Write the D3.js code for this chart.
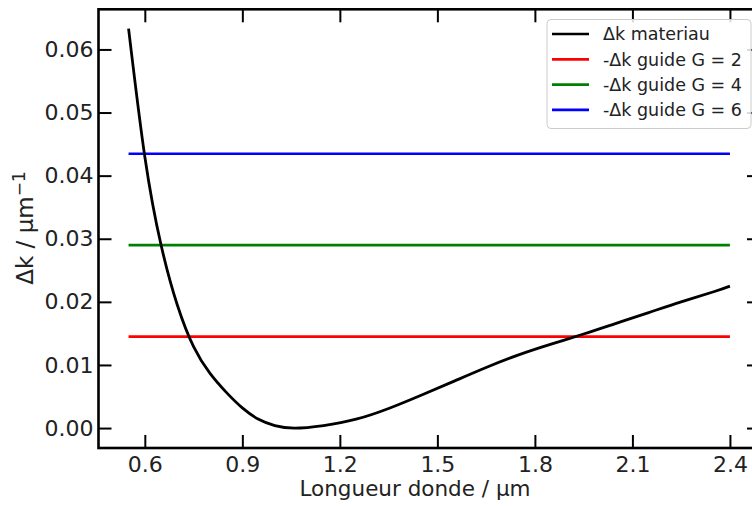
<!DOCTYPE html>
<html><head><meta charset="utf-8">
<script src="https://cdn.jsdelivr.net/npm/d3@7"></script>
<style>
html,body{margin:0;padding:0;background:#fff;}
svg{display:block;font-family:"DejaVu Sans",sans-serif;}
</style></head>
<body>
<svg id="chart" width="752" height="506"></svg>
<script>
// wavelength (µm) and Δk materiau (µm^-1)
const lambda = [0.55,0.60,0.65,0.70,0.75,0.80,0.85,0.90,0.95,1.00,1.06,1.15,1.25,1.35,1.45,1.55,1.65,1.75,1.85,1.95,2.05,2.15,2.25,2.35,2.40];
const dkMat  = [0.0633,0.0430,0.0290,0.0195,0.0129,0.0087,0.0057,0.0032,0.0014,0.0004,0.0000,0.0004,0.0014,0.0031,0.0052,0.0074,0.0096,0.0116,0.0133,0.0149,0.0166,0.0183,0.0200,0.0216,0.0225];
const guideLabels = ["-Δk guide G = 2","-Δk guide G = 4","-Δk guide G = 6"];
const guideValues = [0.01449,0.02898,0.04347];
const guideColors = ["#ff0000","#008000","#0000ff"];
const xTicks = [0.6,0.9,1.2,1.5,1.8,2.1,2.4];
const yTicks = [0.00,0.01,0.02,0.03,0.04,0.05,0.06];
const xRange = [0.55, 2.40];

const svg = d3.select("#chart");
const L = 98.5, R = 760, T = 9.3, B = 448;
const x = d3.scaleLinear().domain([0.4575, 2.4925]).range([L, R]);
const y = d3.scaleLinear().domain([-0.00316, 0.06636]).range([B, T]);

svg.append("defs").append("clipPath").attr("id","clip")
  .append("rect").attr("x",L).attr("y",T).attr("width",R-L).attr("height",B-T);

const plot = svg.append("g").attr("clip-path","url(#clip)");

// guide lines
guideValues.forEach((v,i)=>{
  plot.append("line")
    .attr("x1",x(xRange[0])).attr("x2",x(xRange[1]))
    .attr("y1",y(v)).attr("y2",y(v))
    .attr("stroke",guideColors[i]).attr("stroke-width",2.7);
});

// material curve
const pts = lambda.map((l,i)=>[l,dkMat[i]]);
plot.append("path").datum(pts)
  .attr("fill","none").attr("stroke","#000").attr("stroke-width",2.8)
  .attr("d", d3.line().x(d=>x(d[0])).y(d=>y(d[1])).curve(d3.curveNatural));

// axes with inner ticks
const tl = 13;
const fs = "22px";
const gB = svg.append("g").attr("transform",`translate(0,${B})`)
  .call(d3.axisBottom(x).tickValues(xTicks).tickFormat(d3.format(".1f")).tickSizeInner(-tl).tickSizeOuter(0).tickPadding(6));
const gT = svg.append("g").attr("transform",`translate(0,${T})`)
  .call(d3.axisTop(x).tickValues(xTicks).tickFormat("").tickSizeInner(-tl).tickSizeOuter(0));
const gL = svg.append("g").attr("transform",`translate(${L},0)`)
  .call(d3.axisLeft(y).tickValues(yTicks).tickFormat(d3.format(".2f")).tickSizeInner(-tl).tickSizeOuter(0).tickPadding(5));
const gR = svg.append("g").attr("transform",`translate(${R},0)`)
  .call(d3.axisRight(y).tickValues(yTicks).tickFormat("").tickSizeInner(-tl).tickSizeOuter(0));
[gB,gT,gL,gR].forEach(g=>{
  g.select(".domain").remove();
  g.selectAll(".tick line").attr("stroke","#000").attr("stroke-width",2);
  g.selectAll(".tick text").attr("font-size",fs).attr("font-family","DejaVu Sans").attr("fill","#222");
});
gB.selectAll(".tick text").attr("dy","0.8em");
// frame
svg.append("rect").attr("x",L).attr("y",T).attr("width",R-L).attr("height",B-T)
  .attr("fill","none").attr("stroke","#000").attr("stroke-width",2.6);

// axis labels
svg.append("text").attr("x",415).attr("y",496).attr("text-anchor","middle")
  .attr("font-size","21.5px").attr("fill","#222").text("Longueur donde / µm");
const yl = svg.append("text").attr("transform","translate(33,228) rotate(-90)")
  .attr("text-anchor","middle").attr("font-size","23px").attr("fill","#222");
yl.append("tspan").text("Δk / µm");
yl.append("tspan").attr("dy","-0.5em").attr("font-size","17px").text("−1");

// legend
const lg = svg.append("g");
lg.append("rect").attr("x",547).attr("y",19.5).attr("width",204).attr("height",109).attr("rx",4)
  .attr("fill","#fff").attr("fill-opacity",0.85).attr("stroke","#ccc").attr("stroke-width",1);
const items = [["Δk materiau","#000"]].concat(guideLabels.map((t,i)=>[t,guideColors[i]]));
items.forEach((it,i)=>{
  const cy = 34 + i*25.3;
  lg.append("line").attr("x1",552).attr("x2",589).attr("y1",cy).attr("y2",cy)
    .attr("stroke",it[1]).attr("stroke-width",2.7);
  lg.append("text").attr("x",603).attr("y",cy).attr("dy","0.36em")
    .attr("font-size","17.5px").attr("fill","#222").text(it[0]);
});
</script>
</body></html>
